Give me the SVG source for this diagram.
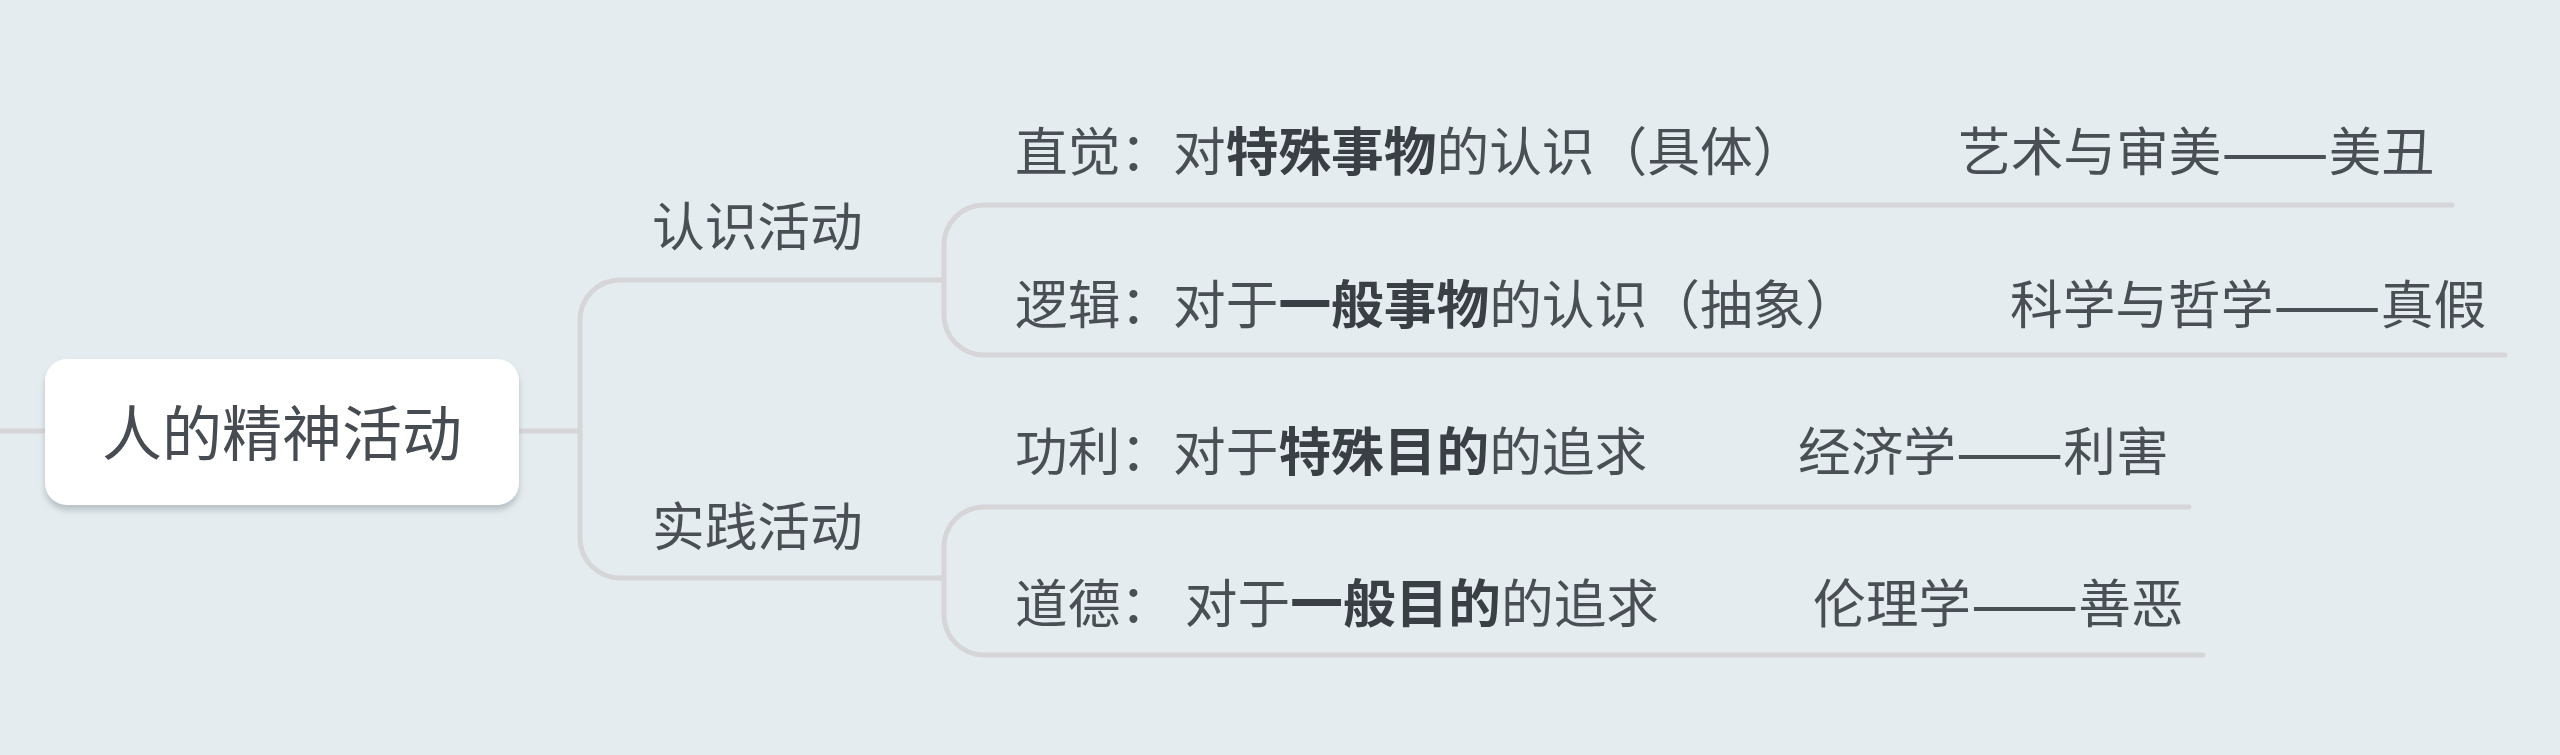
<svg xmlns="http://www.w3.org/2000/svg" width="2560" height="755" viewBox="0 0 2560 755">
<defs>
<filter id="sh" x="-10%" y="-20%" width="120%" height="150%">
<feDropShadow dx="0" dy="5" stdDeviation="3" flood-color="#9aa3a8" flood-opacity="0.6"/>
</filter>
<style>
.t{font-family:"Noto Sans CJK SC","Noto Sans",sans-serif;font-size:52.7px;fill:#4a4f55}
.b{font-weight:bold;fill:#3a3f45}
.d{font-size:64px}
.root{font-family:"Noto Sans CJK SC","Noto Sans",sans-serif;font-size:60px;fill:#474c52}
.c{fill:none;stroke:#d6d6d9;stroke-width:5;stroke-linecap:round}
</style>
</defs>
<rect width="2560" height="755" fill="#e5ecf0"/>
<g id="connectors">
<path class="c" d="M0 431 H45"/>
<path class="c" d="M519 431 H580"/>
<path class="c" d="M940 280 H620 A40 40 0 0 0 580 320 V538 A40 40 0 0 0 620 578 H940"/>
<path class="c" d="M2452 205 H984 A40 40 0 0 0 944 245 V315 A40 40 0 0 0 984 355 H2505"/>
<path class="c" d="M940 280 H944"/>
<path class="c" d="M2189 507 H984 A40 40 0 0 0 944 547 V615 A40 40 0 0 0 984 655 H2203"/>
<path class="c" d="M940 578 H944"/>
</g>
<g id="root">
<rect x="45" y="359" width="474" height="146" rx="22" fill="#ffffff" filter="url(#sh)"/>
<text class="root" x="282" y="456" text-anchor="middle">人的精神活动</text>
</g>
<g id="n-renshi"><text class="t" x="652" y="246">认识活动</text></g>
<g id="n-shijian"><text class="t" x="652" y="546">实践活动</text></g>
<g id="n-zhijue"><text class="t" x="1015" y="171">直觉：对<tspan class="b">特殊事物</tspan>的认识（具体）</text></g>
<g id="n-yishu"><text class="t" x="1958" y="171">艺术与审美<tspan class="d" dy="4">——</tspan><tspan dy="-4">美丑</tspan></text></g>
<g id="n-luoji"><text class="t" x="1015" y="324">逻辑：对于<tspan class="b">一般事物</tspan>的认识（抽象）</text></g>
<g id="n-kexue"><text class="t" x="2010" y="324">科学与哲学<tspan class="d" dy="4">——</tspan><tspan dy="-4">真假</tspan></text></g>
<g id="n-gongli"><text class="t" x="1015" y="471">功利：对于<tspan class="b">特殊目的</tspan>的追求</text></g>
<g id="n-jingji"><text class="t" x="1798" y="471">经济学<tspan class="d" dy="4">——</tspan><tspan dy="-4">利害</tspan></text></g>
<g id="n-daode"><text class="t" x="1015" y="623">道德： 对于<tspan class="b">一般目的</tspan>的追求</text></g>
<g id="n-lunli"><text class="t" x="1813" y="623">伦理学<tspan class="d" dy="4">——</tspan><tspan dy="-4">善恶</tspan></text></g>
</svg>
